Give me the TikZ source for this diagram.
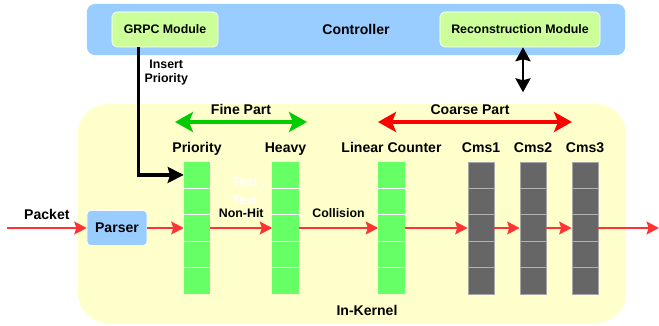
\documentclass[tikz,border=0pt]{standalone}
\usepackage{fontspec}
\setmainfont{Liberation Sans}
\usetikzlibrary{arrows.meta,calc,positioning}
\definecolor{ctrlblue}{HTML}{99CCFF}
\definecolor{modgreen}{HTML}{CCFF99}
\definecolor{kernelyellow}{HTML}{FFFFCC}
\definecolor{cellgreen}{HTML}{66FF66}
\definecolor{cellgrey}{HTML}{666666}
\definecolor{flowred}{HTML}{FF3333}
\definecolor{partgreen}{HTML}{00CC00}
\definecolor{partred}{HTML}{FF0000}
\begin{document}
\begin{tikzpicture}[
        x=0.025cm, y=-0.025cm,
        panel/.style={fill=ctrlblue, rounded corners=0.2cm, minimum width=13.45cm, minimum height=1.275cm, font=\fontsize{10}{12}\selectfont\bfseries},
        module/.style={draw=white, fill=modgreen, rounded corners=0.12cm, minimum height=0.875cm, font=\fontsize{8.8}{10}\selectfont\bfseries},
        kernelbox/.style={fill=kernelyellow, rounded corners=0.75cm, minimum width=13.7cm, minimum height=5.475cm},
        parserbox/.style={draw=white, fill=ctrlblue, rounded corners=0.1cm, minimum width=1.5cm, minimum height=0.875cm, font=\fontsize{10}{12}\selectfont\bfseries},
        greencol/.style={fill=cellgreen, minimum width=0.65cm, minimum height=3.3cm, inner sep=0pt},
        greycol/.style={fill=cellgrey, draw=gray!70, line width=0.6pt, minimum width=0.65cm, minimum height=3.3cm, inner sep=0pt},
        lbl/.style={font=\fontsize{10}{12}\selectfont\bfseries},
        small/.style={font=\fontsize{8.8}{10}\selectfont\bfseries},
        ghost/.style={text=white, font=\fontsize{8.8}{10}\selectfont\bfseries, inner sep=1pt},
        flow/.style={draw=flowred, line width=1.4pt, -{Stealth[length=0.31cm, width=0.32cm, inset=0.05cm]}},
        ctrlarrow/.style={draw=black, line width=2.2pt, -{Stealth[length=0.4cm, width=0.4cm, inset=0.06cm]}},
        bothway/.style={draw=black, line width=1.5pt, {Stealth[length=0.35cm, width=0.38cm, inset=0.05cm]}-{Stealth[length=0.35cm, width=0.38cm, inset=0.05cm]}},
        partarrow/.style={line width=2.8pt, {Stealth[length=0.45cm, width=0.5cm, inset=0.1cm]}-{Stealth[length=0.45cm, width=0.5cm, inset=0.1cm]}}
    ]
    \useasboundingbox (0,0) rectangle (659,326);

    % Controller
    \node[panel] (ctrl) at (356,29.5) {Controller};
    \node[module, minimum width=2.65cm] (grpc) at (165,29.5) {GRPC Module};
    \node[module, minimum width=4cm] (recon) at (520,29.5) {Reconstruction Module};

    % Kernel
    \node[kernelbox] (kernel) at (352,213.5) {};
    \node[lbl] (kname) at (367,310) {In-Kernel};

    % Parts
    \coordinate (fineL) at (175,122);
    \coordinate (fineR) at (307,122);
    \coordinate (coarseL) at (378,122);
    \coordinate (coarseR) at (572,122);
    \draw[partarrow, draw=partgreen] (fineL) -- (fineR);
    \draw[partarrow, draw=partred] (coarseL) -- (coarseR);
    \node[lbl, anchor=base] (fine) at (241,115) {Fine Part};
    \node[lbl, anchor=base] (coarse) at (470,115) {Coarse Part};

    % Sketch columns
    \node[greencol] (pri) at (197,228) {};
    \node[greencol] (hvy) at (285.5,228) {};
    \node[greencol] (lc) at (391.5,228) {};
    \node[greycol] (cms1) at (481,228) {};
    \node[greycol] (cms2) at (533,228) {};
    \node[greycol] (cms3) at (585,228) {};
    \foreach \c in {pri,hvy,lc} {
        \foreach \k [evaluate=\k as \f using \k/5] in {1,...,4}
            \draw[white, line width=0.6pt] ($(\c.north west)!\f!(\c.south west)$) -- ($(\c.north east)!\f!(\c.south east)$);
    }
    \foreach \c in {cms1,cms2,cms3} {
        \foreach \k [evaluate=\k as \f using \k/5] in {1,...,4}
            \draw[gray!60, line width=0.6pt] ($(\c.north west)!\f!(\c.south west)$) -- ($(\c.north east)!\f!(\c.south east)$);
    }

    % Column names
    \node[lbl, anchor=base] (lpri) at ($(pri.north)+(0,-9)$) {Priority};
    \node[lbl, anchor=base] (lhvy) at ($(hvy.north)+(0,-9)$) {Heavy};
    \node[lbl, anchor=base] (llc) at ($(lc.north)+(0,-9)$) {Linear Counter};
    \node[lbl, anchor=base] (lcms1) at ($(cms1.north)+(0,-9)$) {Cms1};
    \node[lbl, anchor=base] (lcms2) at ($(cms2.north)+(0,-9)$) {Cms2};
    \node[lbl, anchor=base] (lcms3) at ($(cms3.north)+(0,-9)$) {Cms3};

    % Parser
    \node[parserbox] (parser) at (117,228) {Parser};
    \coordinate (pktin) at (7,228);
    \coordinate (pktout) at (659,228);

    % Packet flow
    \draw[flow] (pktin) -- node[lbl, above=2pt] {Packet} (parser);
    \draw[flow] (parser) -- (pri);
    \draw[flow] (pri) -- node[small, above=3pt] {Non-Hit} (hvy);
    \draw[flow] (hvy) -- node[small, above=3pt] {Collision} (lc);
    \draw[flow] (lc) -- (cms1);
    \draw[flow] (cms1) -- (cms2);
    \draw[flow] (cms2) -- (cms3);
    \draw[flow] (cms3) -- (pktout);

    % Control links
    \coordinate (ins) at ($(grpc.south west)!0.25!(grpc.south east)$);
    \draw[ctrlarrow] (ins) |- node[pos=0.1, right, small, align=center] {Insert\\Priority} ($(pri.north west)!0.1!(pri.south west)$);
    \coordinate (kerntop) at ($(recon.south)+(3,45)$);
    \draw[bothway] ($(recon.south)+(3,0)$) -- (kerntop);

    % leftover labels
    \node[ghost] (t1) at (245,182) {Text};
    \node[ghost] (t2) at (245,200) {Text};
    \draw[white, line width=0.5pt, -{Stealth[length=3pt]}] (t2.north east) -- ($(t1.east)+(4,0)$);

\end{tikzpicture}
\end{document}
